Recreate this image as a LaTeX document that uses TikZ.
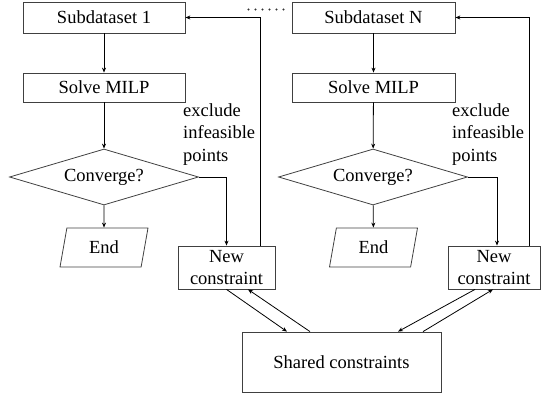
\documentclass[tikz,border=0pt]{standalone}
\usepackage{fontspec}
\setmainfont{Liberation Serif}
\newfontfamily\tnr{Liberation Serif}
\usetikzlibrary{shapes.geometric,arrows.meta}
\begin{document}
\begin{tikzpicture}[x=1pt,y=-1pt,
  every node/.style={font=\tnr\fontsize{18.5}{22.5}\selectfont},
  box/.style={draw=black!75,line width=0.8pt,rectangle,inner sep=0pt,minimum width=#1},
  dia/.style={draw=black!75,line width=0.8pt,diamond,aspect=3.4,inner sep=0pt,minimum width=189pt,minimum height=56pt},
  para/.style={draw=black!75,line width=0.8pt,trapezium,trapezium left angle=78,trapezium right angle=102,trapezium stretches=true,inner sep=0pt,minimum width=88pt,minimum height=39pt},
  conn/.style={line width=0.8pt,black},
  arr/.style={conn,-{Stealth[length=5pt,width=4pt]}},
  lbl/.style={align=left,inner sep=0pt,anchor=north west},
  dotmark/.style={fill=black!80}
]
\useasboundingbox (0,0) rectangle (541,394);

% column 1
\node[box=162pt,minimum height=31pt] (sub1) at (104,17.5) {Subdataset 1};
\node[box=162pt,minimum height=29pt] (solve1) at (104,87.5) {Solve MILP};
\node[dia] (dia1) at (104,177) {Converge?};
\node[para] (end1) at (104,247.5) {End};
\node[box=97pt,minimum height=43pt,align=center] (newc1) at (226.5,267.5) {New\\constraint};
\node[lbl] (ex1) at (183,103) {exclude\\infeasible\\points};

% column N
\node[box=163pt,minimum height=31pt] (subn) at (373.5,17.5) {Subdataset N};
\node[box=163pt,minimum height=29pt] (solven) at (373.5,87.5) {Solve MILP};
\node[dia] (dian) at (373,177) {Converge?};
\node[para] (endn) at (373.5,247.5) {End};
\node[box=92pt,minimum height=43pt,align=center] (newcn) at (494,267.5) {New\\constraint};
\node[lbl] (exn) at (452,103) {exclude\\infeasible\\points};

% shared
\node[box=199pt,minimum height=60pt] (shared) at (341.5,362) {Shared constraints};

% dots between the two columns
\foreach \i in {0,...,5} \fill[dotmark] (248.5+7*\i,9.5) circle (1.2);

% connectors column 1
\draw[arr] (sub1) -- (solve1);
\draw[arr] (solve1) -- (dia1);
\draw[arr] (dia1) -- (end1);
\draw[arr] (dia1.east) -| (newc1.north);
\draw[arr] ([xshift=33.5pt]newc1.north) |- (sub1.east);

% connectors column N
\draw[arr] (subn) -- (solven);
\draw[arr] (solven) -- (dian);
\draw[arr] (dian) -- (endn);
\draw[arr] (dian.east) -| ([xshift=3pt]newcn.north);
\draw[arr] ([xshift=35pt]newcn.north) |- (subn.east);

% shared links
\draw[arr] (newc1.south) -- ([xshift=-54.5pt]shared.north);
\draw[arr] ([xshift=-31.5pt]shared.north) -- ([xshift=21.5pt]newc1.south);
\draw[arr] ([xshift=-19pt]newcn.south) -- ([xshift=56.5pt]shared.north);
\draw[arr] ([xshift=81.5pt]shared.north) -- ([xshift=-1pt]newcn.south);
\end{tikzpicture}
\end{document}
